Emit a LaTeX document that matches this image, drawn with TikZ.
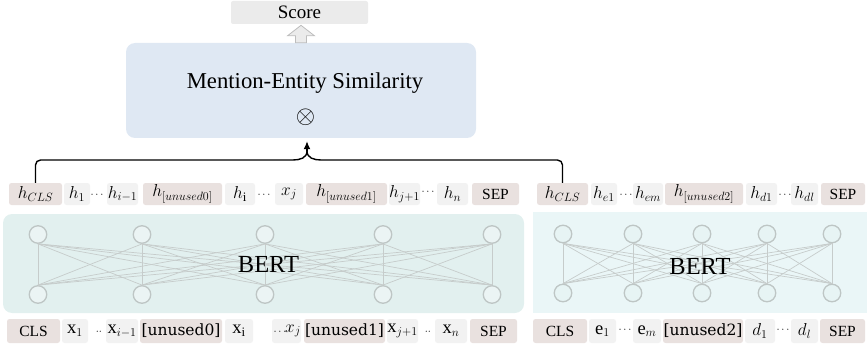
\documentclass[tikz,border=0pt]{standalone}
\usepackage{fontspec}
\setmainfont{Liberation Serif}
\newfontfamily\camfont{DejaVu Serif}
\usetikzlibrary{arrows.meta,calc}
\definecolor{tokdarkc}{HTML}{E9E1DF}
\definecolor{toklightc}{HTML}{F2F2F2}
\definecolor{scorec}{HTML}{EBEBEB}
\definecolor{simc}{HTML}{DFE8F3}
\definecolor{bertLc}{HTML}{E2F0EF}
\definecolor{bertRc}{HTML}{EAF6F7}
\definecolor{neurc}{HTML}{BEC6C5}
\definecolor{edgec}{HTML}{C6CCCB}
\definecolor{arrc}{HTML}{BDBDBD}
\newcommand\ttk[5]{\node[#2, minimum width={#4-#3}, minimum height=22] (#1) at ({(#3+#4)/2},194) {#5};}
\newcommand\btk[5]{\node[#2, minimum width={#4-#3}, minimum height=24] (#1) at ({(#3+#4)/2},331) {#5};}
\newcommand\dt[3]{\node[dotsn] (#1) at (#2,#3) {$\cdots$};}
\begin{document}
\begin{tikzpicture}[x=1pt,y=-1pt,
  tokbase/.style={rectangle, rounded corners=2.5pt, inner sep=0pt, font=\fontsize{15.5}{18}\selectfont},
  tokdark/.style={tokbase, fill=tokdarkc},
  toklight/.style={tokbase, fill=toklightc},
  mt/.style={font=\fontsize{18.5}{20}\selectfont},
  dotsn/.style={inner sep=0pt, font=\fontsize{11}{12}\selectfont},
  neuron/.style={circle, draw=neurc, line width=1.3pt, fill=#1, minimum size=17.5pt, inner sep=0pt},
  edge/.style={draw=edgec, line width=0.7pt},
  conn/.style={draw=black, line width=1.4pt},
  bertbox/.style={rectangle, inner sep=0pt}
]
\useasboundingbox (0,0) rectangle (867,350);

% Score and similarity
\node[rectangle, rounded corners=2pt, fill=scorec, minimum width=137, minimum height=23, inner sep=0pt,
  font=\fontsize{19}{21}\selectfont] (score) at (299.5,12.5) {Score};
\node[rectangle, rounded corners=9pt, fill=simc, minimum width=350, minimum height=95, inner sep=0pt] (sim) at (301,90.5) {};
\node[font=\fontsize{22.7}{26}\selectfont] (simtxt) at (305,83) {Mention-Entity Similarity};
\node[font=\fontsize{26}{28}\selectfont, inner sep=0pt] (otim) at (305.5,117) {$\otimes$};
\draw[draw=arrc, fill=scorec, line width=0.8pt]
  ($(sim.north)+(-5.5,0)$) -- ++(0,-7) -- ++(-8,0) -- ++(13.5,-10.5) -- ++(13.5,10.5) -- ++(-8,0) -- ++(0,7) -- cycle;

% BERT boxes
\node[bertbox, rounded corners=9pt, fill=bertLc, minimum width=521, minimum height=99] (bertL) at (263.5,263.5) {};
\node[bertbox, fill=bertRc, minimum width=334, minimum height=101] (bertR) at (700,262.5) {};

% left network
\foreach \x [count=\i] in {38,142,265,383,492} {
  \node[neuron=bertLc!70!white] (lt\i) at (\x,234.5) {};
  \node[neuron=bertLc!70!white] (lb\i) at (\x,294.5) {};
}
\foreach \i in {1,...,5} \foreach \j in {1,...,5} \draw[edge] (lt\i.south) -- (lb\j.north);
\node[font=\fontsize{24.5}{28}\selectfont] (bertLt) at (268.5,265) {BERT};

% right network
\foreach \x [count=\i] in {563,633,702,767,832} {
  \node[neuron=bertRc!60!bertLc] (rt\i) at (\x,234) {};
  \node[neuron=bertRc!60!bertLc] (rb\i) at (\x,293) {};
}
\foreach \i in {1,...,5} \foreach \j in {1,...,5} \draw[edge] (rt\i.south) -- (rb\j.north);
\node[font=\fontsize{24.5}{28}\selectfont] (bertRt) at (700,267) {BERT};

% top tokens
\ttk{hclsA}{tokdark,mt}{9}{62}{$h_{CLS}$}
\ttk{hA1}{toklight,mt}{64}{90}{$h_1$}
\dt{d1}{97}{195}
\ttk{hAim}{toklight,mt}{107}{138}{$h_{i-1}$}
\ttk{hu0}{tokdark,mt}{143}{222}{$h_{[unused0]}$}
\ttk{hAi}{toklight,mt}{225}{255}{$h_{\mathrm{i}}$}
\dt{d2}{264}{195}
\ttk{hxj}{toklight,mt}{275}{303}{$x_j$}
\ttk{hu1}{tokdark,mt}{306}{387}{$h_{[unused1]}$}
\ttk{hAjp}{toklight,mt}{389}{420}{$h_{j+1}$}
\dt{d3}{428}{192}
\ttk{hAn}{toklight,mt}{437}{468}{$h_n$}
\ttk{sepA}{tokdark}{472}{519}{SEP}
\ttk{hclsB}{tokdark,mt}{537}{588}{$h_{CLS}$}
\ttk{he1}{toklight,mt}{591}{617}{$h_{e1}$}
\dt{d4}{626}{195}
\ttk{hem}{toklight,mt}{633}{663}{$h_{em}$}
\ttk{hu2}{tokdark,mt}{665}{743}{$h_{[unused2]}$}
\ttk{hd1}{toklight,mt}{746}{777}{$h_{d1}$}
\dt{d5}{785}{195}
\ttk{hdl}{toklight,mt}{791}{818}{$h_{dl}$}
\ttk{sepB}{tokdark}{821}{865}{SEP}

% bottom tokens
\btk{clsA}{tokdark}{7}{60}{CLS}
\btk{x1}{toklight,mt}{62}{88}{$\mathrm{x}_1$}
\node[dotsn] (d6) at (99,332) {$\cdot\cdot$};
\btk{xim}{toklight,mt}{106}{138}{$\mathrm{x}_{i-1}$}
\btk{u0}{tokdark}{140}{222}{{\camfont[unused0]}}
\btk{xi}{toklight,mt}{225}{253}{$\mathrm{x}_{\mathrm{i}}$}
\btk{xj}{toklight}{272}{301}{}
\node[dotsn] (d7) at (280,332) {$\cdots$};
\node[font=\fontsize{18.5}{20}\selectfont, inner sep=0pt] (xjt) at (293,331) {$x_j$};
\btk{u1}{tokdark}{304}{385}{{\camfont[unused1]}}
\btk{xjp}{toklight,mt}{387}{418}{$\mathrm{x}_{j+1}$}
\node[dotsn] (d8) at (428,332) {$\cdot\cdot$};
\btk{xn}{toklight,mt}{435}{467}{$\mathrm{x}_n$}
\btk{sepC}{tokdark}{470}{517}{SEP}
\btk{clsB}{tokdark}{533}{587}{CLS}
\btk{e1}{toklight,mt}{589}{616}{$\mathrm{e}_1$}
\dt{d9}{625}{330}
\btk{em}{toklight,mt}{633}{661}{$\mathrm{e}_m$}
\btk{u2}{tokdark}{663}{743}{{\camfont[unused2]}}
\btk{dd1}{toklight,mt}{745}{775}{$d_1$}
\dt{d10}{783}{330}
\btk{ddl}{toklight,mt}{791}{818}{$d_l$}
\btk{sepD}{tokdark}{820}{865}{SEP}

% connectors
\coordinate (jn) at (307,151);
\draw[conn, rounded corners=5pt] (hclsA.north) -- (hclsA.north |- 0,160) -- (288,160) .. controls (300,160) and (307,158) .. (jn);
\draw[conn, rounded corners=5pt] (hclsB.north) -- (hclsB.north |- 0,160) -- (326,160) .. controls (314,160) and (307,158) .. (jn);
\draw[conn, -{Latex[length=8pt,width=7pt]}] (jn) -- ([yshift=-3pt]sim.south -| jn);
\end{tikzpicture}
\end{document}
